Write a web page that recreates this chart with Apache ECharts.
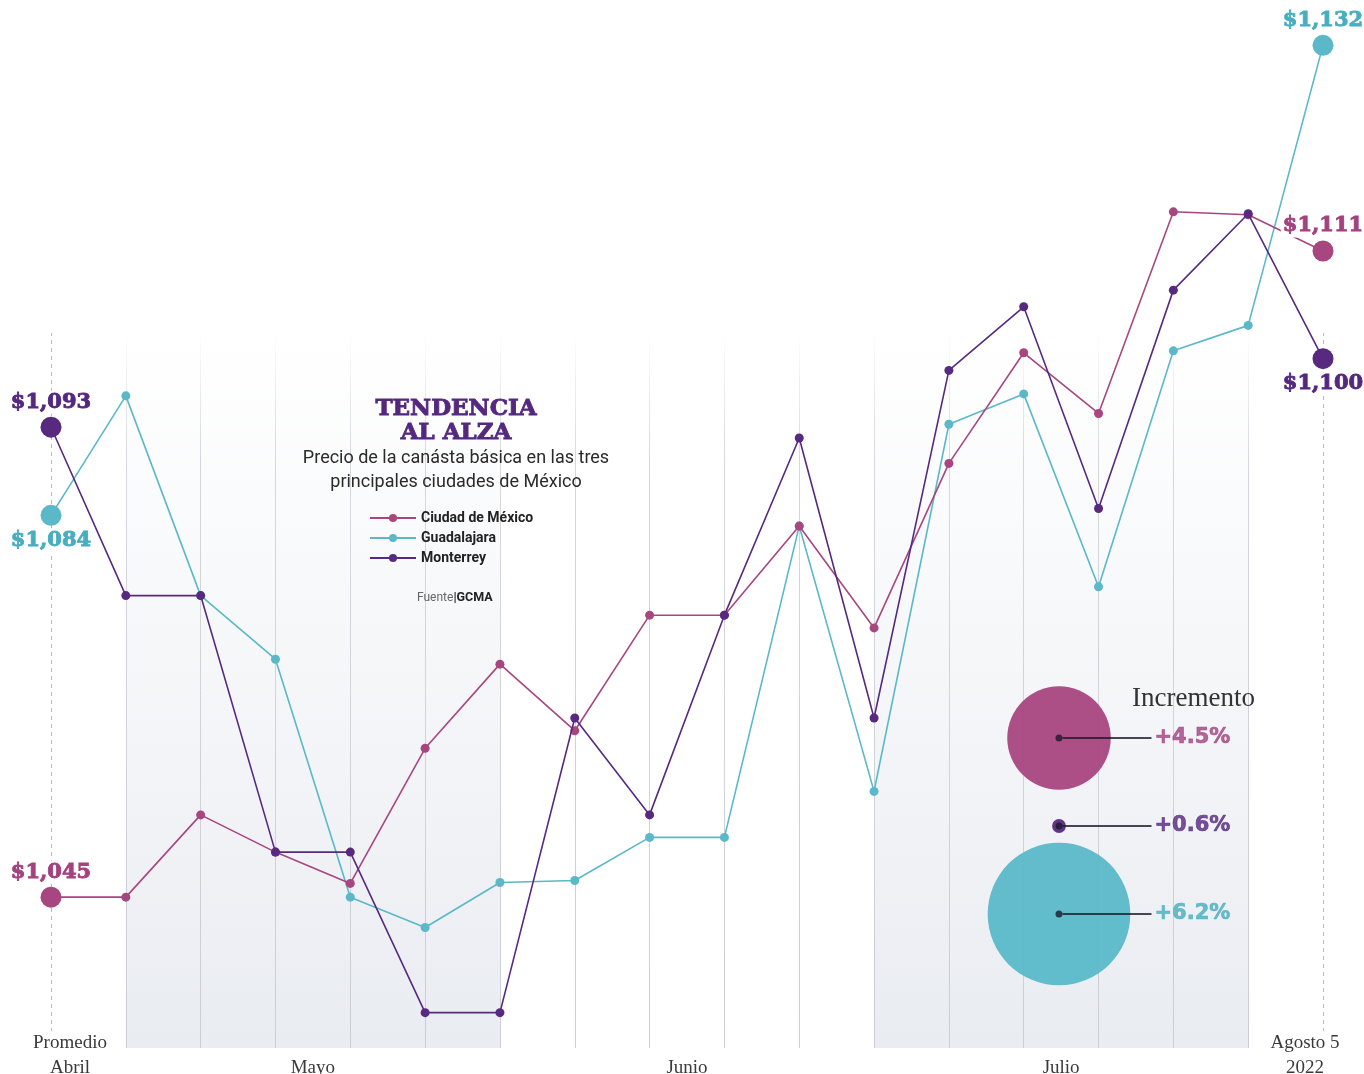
<!DOCTYPE html>
<html>
<head>
<meta charset="utf-8">
<title>Tendencia al alza</title>
<script src="https://cdn.jsdelivr.net/npm/echarts@6/dist/echarts.min.js"></script>
<style>
html, body { margin: 0; padding: 0; background: #fff; }
#chart { width: 1364px; height: 1074px; }
</style>
</head>
<body>
<div id="chart"></div>
<script>
// cortes: promedio de abril, 16 semanas y el 5 de agosto
const weeks = ['Promedio\nAbril', 'S1', 'S2', 'S3', 'S4', 'S5', 'S6', 'S7', 'S8',
  'S9', 'S10', 'S11', 'S12', 'S13', 'S14', 'S15', 'S16', 'Agosto 5\n2022'];
// etiquetas de mes, centradas entre cortes
const monthBands = ['', '', '', 'Mayo', '', '', '', '', 'Junio', '', '', '', '', 'Julio', '', '', ''];
// tramos sombreados (mayo y julio)
const shadedBands = [[1, 6], [11, 16]];

const cities = ['Ciudad de México', 'Guadalajara', 'Monterrey'];
// precio de la canasta basica, pesos
const cdmx = [1045, 1045.0, 1053.4, 1049.6, 1046.4, 1060.2, 1068.8, 1062.0, 1073.8, 1073.8,
  1082.9, 1072.5, 1089.3, 1100.6, 1094.4, 1115.0, 1114.7, 1111];
const gdl = [1084, 1096.2, 1075.8, 1069.3, 1045.0, 1041.9, 1046.5, 1046.7, 1051.1, 1051.1,
  1082.9, 1055.8, 1093.3, 1096.4, 1076.7, 1100.8, 1103.4, 1132];
const mty = [1093, 1075.8, 1075.8, 1049.6, 1049.6, 1033.2, 1033.2, 1063.3, 1053.4, 1073.8,
  1091.9, 1063.3, 1098.8, 1105.3, 1084.7, 1107.0, 1114.8, 1100];

// incremento abril -> agosto (%)
const incCities = ['Ciudad de México', 'Monterrey', 'Guadalajara'];
const increments = [4.5, 0.6, 6.2];

const colors = {
  'Ciudad de México': '#a8467f',
  'Guadalajara': '#5ab8c8',
  'Monterrey': '#572a80'
};
const labelColors = {
  'Ciudad de México': '#a3427f',
  'Guadalajara': '#48aebf',
  'Monterrey': '#55287f'
};

function buildData(vals, city, startPos, endPos) {
  const last = vals.length - 1;
  return vals.map(function (v, i) {
    if (i !== 0 && i !== last) return v;
    return {
      value: v,
      symbolSize: 21,
      label: {
        show: true,
        position: i === 0 ? startPos : endPos,
        distance: 3,
        formatter: function (p) { return '$' + p.value.toLocaleString('en-US'); },
        color: labelColors[city],
        fontFamily: 'DejaVu Serif',
        fontWeight: 'bold',
        fontSize: 21,
        textBorderColor: labelColors[city],
        textBorderWidth: 0.9,
        backgroundColor: '#fff',
        padding: [1, 2]
      }
    };
  });
}

function lineSeries(city, vals, startPos, endPos, z) {
  return {
    name: city,
    type: 'line',
    xAxisIndex: 1,
    yAxisIndex: 1,
    data: buildData(vals, city, startPos, endPos),
    symbol: 'circle',
    symbolSize: 9,
    lineStyle: { width: 1.6, color: colors[city] },
    itemStyle: { color: colors[city] },
    emphasis: { disabled: true },
    z: z
  };
}

const pctKeys = { 'Ciudad de México': 'pk', 'Monterrey': 'pm', 'Guadalajara': 'pg' };
function pctStyle(city) {
  return {
    color: labelColors[city], fontFamily: 'DejaVu Sans', fontWeight: 'bold', fontSize: 21,
    textBorderColor: labelColors[city], textBorderWidth: 0.7, padding: [0, 0, 0, 3]
  };
}

const axisFont = { fontFamily: 'Liberation Serif', fontSize: 19, lineHeight: 25, color: '#3a3a3a' };

const chart = echarts.init(document.getElementById('chart'));
chart.setOption({
  animation: false,
  backgroundColor: '#fff',
  grid: [
    { left: 51, right: 41, top: 333, bottom: 26, outerBoundsMode: 'none' },   // fondo
    { left: 51, right: 41, top: 16, bottom: 30, outerBoundsMode: 'none' },    // lineas
    { left: 51, right: 41, top: 333, bottom: 26, outerBoundsMode: 'none' },   // meses
    { left: 1009, width: 100, top: 694, height: 264, outerBoundsMode: 'none' } // burbujas
  ],
  xAxis: [
    {
      gridIndex: 0, type: 'category', data: weeks, boundaryGap: false, z: 2,
      axisLine: { show: false }, axisTick: { show: false },
      axisLabel: {
        interval: 0, margin: -17,
        formatter: function (v, i) {
          if (i === 0) return v.split('\n').map(function (s) { return '{l|' + s + '}'; }).join('\n');
          if (i === weeks.length - 1) return v.split('\n').map(function (s) { return '{r|' + s + '}'; }).join('\n');
          return '';
        },
        backgroundColor: '#fff',
        rich: {
          l: Object.assign({ padding: [0, 0, 0, 38] }, axisFont),
          r: Object.assign({ padding: [0, 36, 0, 0] }, axisFont)
        }
      },
      splitLine: {
        show: true,
        interval: function (i) { return i > 0 && i < weeks.length - 1; },
        lineStyle: {
          width: 1,
          color: {
            type: 'linear', x: 0, y: 0, x2: 0, y2: 1,
            colorStops: [
              { offset: 0, color: 'rgba(214,215,220,0)' },
              { offset: 0.18, color: 'rgba(214,215,220,1)' },
              { offset: 1, color: 'rgba(205,206,212,1)' }
            ]
          }
        }
      }
    },
    { gridIndex: 1, type: 'category', data: weeks, boundaryGap: false, show: false },
    {
      gridIndex: 2, type: 'category', data: monthBands, boundaryGap: true,
      axisLine: { show: false }, axisTick: { show: false }, splitLine: { show: false },
      axisLabel: Object.assign({ interval: 0, margin: 8 }, axisFont)
    },
    { gridIndex: 3, type: 'category', data: ['Incremento'], boundaryGap: true, show: false }
  ],
  yAxis: [
    { gridIndex: 0, type: 'value', min: 0, max: 1, show: false },
    { gridIndex: 1, type: 'value', min: 1030, max: 1135, show: false },
    { gridIndex: 2, type: 'value', min: 0, max: 1, show: false },
    { gridIndex: 3, type: 'category', data: incCities, inverse: true, show: false }
  ],
  legend: {
    orient: 'vertical',
    left: 364,
    top: 505,
    itemWidth: 46,
    itemHeight: 10,
    itemGap: 4,
    selectedMode: false,
    data: cities,
    textStyle: { fontFamily: 'Roboto', fontWeight: 'bold', fontSize: 14, color: '#222', lineHeight: 16 }
  },
  graphic: [
    {
      type: 'text', x: 456, y: 421, silent: true, z: 20,
      style: {
        text: 'TENDENCIA\nAL ALZA', align: 'center', verticalAlign: 'middle',
        fontFamily: 'DejaVu Serif', fontWeight: 'bold', fontSize: 23, lineHeight: 24,
        fill: '#55287f', stroke: '#55287f', lineWidth: 0.9
      }
    },
    {
      type: 'text', x: 456, y: 470, silent: true, z: 20,
      style: {
        text: 'Precio de la canásta básica en las tres\nprincipales ciudades de México',
        align: 'center', verticalAlign: 'middle',
        fontFamily: 'Roboto', fontSize: 18, lineHeight: 24, fill: '#2a2a2a'
      }
    },
    {
      type: 'text', x: 417, y: 598, silent: true, z: 20,
      style: {
        text: '{a|Fuente}{b||GCMA}', align: 'left', verticalAlign: 'middle',
        rich: {
          a: { fontFamily: 'Roboto', fontSize: 12, fill: '#666' },
          b: { fontFamily: 'Roboto', fontWeight: 'bold', fontSize: 12.5, fill: '#222' }
        }
      }
    },
    {
      type: 'text', x: 1132, y: 699, silent: true, z: 20,
      style: {
        text: 'Incremento', align: 'left', verticalAlign: 'middle',
        fontFamily: 'Liberation Serif', fontSize: 27, fill: '#333'
      }
    }
  ],
  series: [
    {
      name: 'fondo',
      type: 'line',
      xAxisIndex: 0,
      yAxisIndex: 0,
      data: [],
      silent: true,
      z: 0,
      markArea: {
        silent: true,
        z: 0,
        itemStyle: {
          color: {
            type: 'linear', x: 0, y: 0, x2: 0, y2: 1,
            colorStops: [
              { offset: 0, color: 'rgba(236,238,243,0)' },
              { offset: 1, color: 'rgba(233,236,241,1)' }
            ]
          }
        },
        data: shadedBands.map(function (b) { return [{ xAxis: b[0] }, { xAxis: b[1] }]; })
      },
      markLine: {
        silent: true,
        symbol: 'none',
        z: 1,
        label: { show: false },
        lineStyle: { type: [4, 4], color: '#b9b9bf', width: 1 },
        data: [{ xAxis: 0 }, { xAxis: weeks.length - 1 }]
      }
    },
    lineSeries('Guadalajara', gdl, 'bottom', 'top', 3),
    lineSeries('Ciudad de México', cdmx, 'top', 'top', 4),
    lineSeries('Monterrey', mty, 'top', 'bottom', 5),
    {
      name: 'incremento',
      type: 'scatter',
      xAxisIndex: 3,
      yAxisIndex: 3,
      silent: true,
      z: 6,
      symbolSize: function (v) { return v[2] * 23; },
      data: incCities.map(function (c, i) {
        return { value: ['Incremento', c, increments[i]], itemStyle: { color: colors[c], opacity: 0.95 } };
      })
    },
    {
      name: 'marcador',
      type: 'scatter',
      xAxisIndex: 3,
      yAxisIndex: 3,
      silent: true,
      z: 7,
      symbolSize: 7,
      itemStyle: { color: '#1c1a2b' },
      label: {
        show: true,
        position: 'right',
        distance: 0,
        formatter: function (p) {
          return '{ln|}{' + pctKeys[p.value[1]] + '|+' + p.value[2].toFixed(1) + '%}';
        },
        rich: {
          ln: { width: 89, height: 2, backgroundColor: '#1c1a2b' },
          pk: pctStyle('Ciudad de México'),
          pm: pctStyle('Monterrey'),
          pg: pctStyle('Guadalajara')
        }
      },
      data: incCities.map(function (c, i) { return ['Incremento', c, increments[i]]; })
    }
  ]
});
</script>
</body>
</html>
